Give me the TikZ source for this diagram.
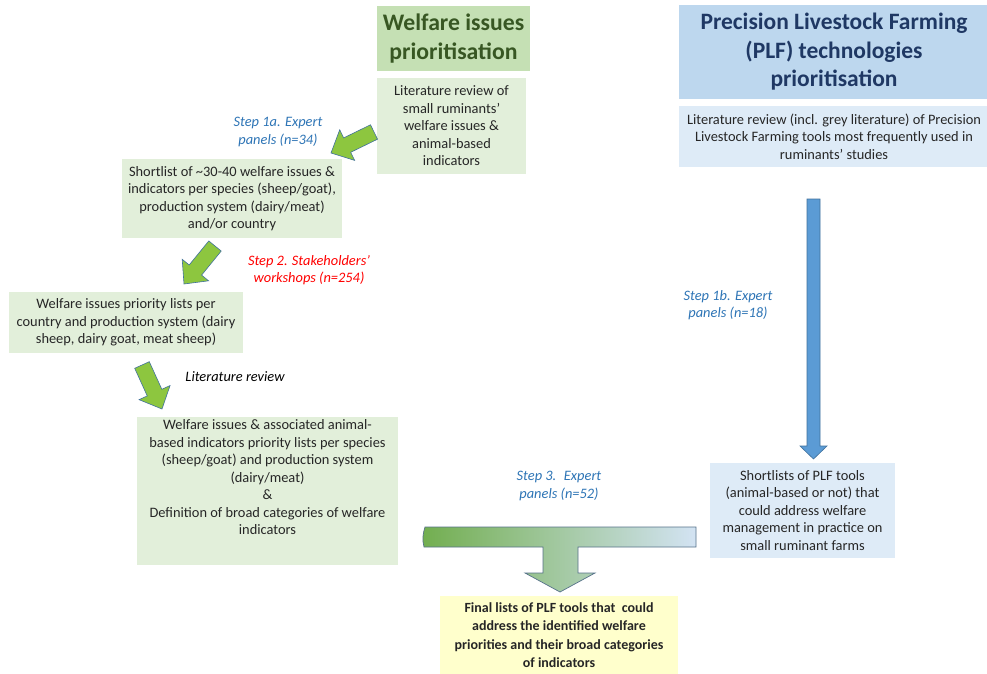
\documentclass[tikz,border=0pt]{standalone}
\usepackage{fontspec}
\setmainfont{Carlito}
\usetikzlibrary{calc}
\definecolor{gbox}{HTML}{E2EFDA}
\definecolor{gtitle}{HTML}{C5E0B4}
\definecolor{btitle}{HTML}{BDD7EE}
\definecolor{bbox}{HTML}{DEEBF7}
\definecolor{ybox}{HTML}{FFFFCC}
\definecolor{gtext}{HTML}{385723}
\definecolor{btext}{HTML}{1F3864}
\definecolor{stepblue}{HTML}{2E75B6}
\definecolor{garrow}{HTML}{8DC63F}
\definecolor{barrow}{HTML}{5B9BD5}
\definecolor{aline}{HTML}{41719C}
\definecolor{tleft}{HTML}{72AE4F}
\definecolor{tmid}{HTML}{A4C7BC}
\definecolor{tright}{HTML}{D3E3F3}
\newcommand\blockarr[6]{%
  \coordinate (hb) at ($(#2)!#5pt!(#1)$);
  \draw[#6] ($(#1)!#3pt!90:(#2)$) -- ($(hb)!#3pt!90:(#2)$) -- ($(hb)!#4pt!90:(#2)$)
    -- (#2) -- ($(hb)!#4pt!-90:(#2)$) -- ($(hb)!#3pt!-90:(#2)$) -- ($(#1)!#3pt!-90:(#2)$) -- cycle;}
\tikzset{
  base/.style={inner sep=0pt, align=center, font=\fontsize{14.4}{17.5}\selectfont, text=black!85},
  gbx/.style={base, fill=gbox},
  bbx/.style={base, fill=bbox},
  ybx/.style={base, fill=ybox, font=\fontsize{14}{18.5}\selectfont\bfseries},
  gttl/.style={base, fill=gtitle, text=gtext, font=\fontsize{23.7}{29}\selectfont\bfseries},
  bttl/.style={base, fill=btitle, text=btext, font=\fontsize{23.5}{28.5}\selectfont\bfseries},
  steplbl/.style={inner sep=0pt, align=center, font=\fontsize{14.4}{17.5}\selectfont\itshape},
  garr/.style={fill=garrow, draw=aline, line width=0.6pt, line join=miter},
  barr/.style={fill=barrow, draw=aline, line width=0.6pt, line join=miter},
}
\begin{document}
\begin{tikzpicture}[x=1pt,y=-1pt]
\useasboundingbox[fill=white] (0,0) rectangle (987,674);
% nodes
\node[gttl, minimum width=153pt, minimum height=65pt] (wtitle) at (453.5,38.5) {Welfare issues\\prioritisation};
\node[gbx, minimum width=149pt, minimum height=96pt] (wlit) at (451.5,126) {Literature review of\\small ruminants'\\welfare issues \&\\animal-based\\indicators};
\node[bttl, minimum width=310pt, minimum height=94pt] (ptitle) at (834,52) {Precision Livestock Farming\\(PLF) technologies\\prioritisation};
\node[bbx, minimum width=310pt, minimum height=61pt] (plit) at (834,136.5) {Literature review (incl. grey literature) of Precision\\Livestock Farming tools most frequently used in\\ruminants’ studies};
\node[gbx, minimum width=220pt, minimum height=79pt] (short) at (232,198.5) {Shortlist of {\char"7E}30-40 welfare issues \&\\indicators per species (sheep/goat),\\production system (dairy/meat)\\and/or country};
\node[gbx, minimum width=234pt, minimum height=61pt] (prio) at (126,322.5) {Welfare issues priority lists per\\country and production system (dairy\\sheep, dairy goat, meat sheep)};
\node[gbx, minimum width=261pt, minimum height=148pt] (assoc) at (267.5,491) {Welfare issues \& associated animal-\\based indicators priority lists per species\\(sheep/goat) and production system\\(dairy/meat)\\\&\\Definition of broad categories of welfare\\indicators\\[10pt]};
\node[bbx, minimum width=185pt, minimum height=95pt] (plfshort) at (802.5,510.5) {Shortlists of PLF tools\\(animal-based or not) that\\could address welfare\\management in practice on\\small ruminant farms};
\node[ybx, minimum width=238pt, minimum height=78pt] (final) at (559,635) {Final lists of PLF tools that~ could\\address the identified welfare\\priorities and their broad categories\\of indicators};
% labels
\node[steplbl, text=stepblue] (s1a) at (278,132) {Step 1a. Expert\\panels (n=34)};
\node[steplbl, text=red] (s2) at (309,270) {Step 2. Stakeholders’\\workshops (n=254)};
\node[steplbl, text=black] (litrev) at (235,377) {Literature review};
\node[steplbl, text=stepblue] (s1b) at (728,305) {Step 1b. Expert\\panels (n=18)};
\node[steplbl, text=stepblue] (s3) at (559,486) {Step 3.~ Expert\\panels (n=52)};
% green block arrows
\coordinate (a1t) at (374,132); \coordinate (a1h) at (331,153);
\blockarr{a1t}{a1h}{8}{17}{18}{garr}
\coordinate (a2t) at (215,246); \coordinate (a2h) at (184,284);
\blockarr{a2t}{a2h}{8}{17}{18}{garr}
\coordinate (a3t) at (142,365); \coordinate (a3h) at (162,409);
\blockarr{a3t}{a3h}{8}{17}{18}{garr}
% blue arrow
\coordinate (bt) at (813.5,199); \coordinate (bh) at (813.5,459);
\blockarr{bt}{bh}{6.5}{13.5}{13}{barr}
% T arrow
\draw[draw=aline!70!black!80, line width=0.7pt, left color=tleft, middle color=tmid, right color=tright, line join=miter]
  (424,547) .. controls (422,540) and (423,533) .. (425,527) -- (696,527) -- (696,547) -- (578,547) -- (578,573)
  -- (595,573) -- (560,592) -- (525,573) -- (543,573) -- (543,547) -- cycle;
\end{tikzpicture}
\end{document}
